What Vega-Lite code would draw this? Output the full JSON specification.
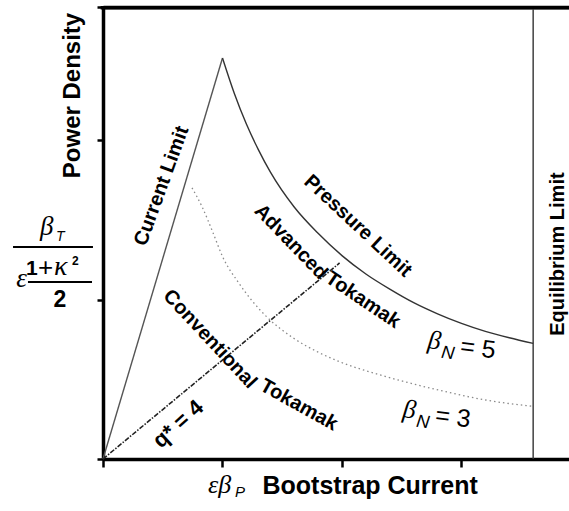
{
  "$schema": "https://vega.github.io/schema/vega-lite/v6.json",
  "autosize": {"type": "none"},
  "padding": {"left": 103, "top": 7, "right": 0, "bottom": 52},
  "width": 466,
  "height": 452,
  "background": "white",
  "config": {"view": {"stroke": null}, "font": "Liberation Sans"},
  "datasets": {
    "current": [{"x": 0, "y": 0}, {"x": 1.0, "y": 2.514}],
    "pressure": [
      {"x": 1.0, "y": 2.514}, {"x": 1.1, "y": 2.29}, {"x": 1.2, "y": 2.10}, {"x": 1.3, "y": 1.94},
      {"x": 1.4, "y": 1.80}, {"x": 1.6, "y": 1.58}, {"x": 1.8, "y": 1.415}, {"x": 2.0, "y": 1.275},
      {"x": 2.2, "y": 1.16}, {"x": 2.4, "y": 1.065}, {"x": 2.6, "y": 0.98}, {"x": 2.8, "y": 0.91},
      {"x": 3.0, "y": 0.85}, {"x": 3.2, "y": 0.80}, {"x": 3.4, "y": 0.76}, {"x": 3.6, "y": 0.725}
    ],
    "bn3": [
      {"x": 0.745, "y": 1.70}, {"x": 0.83, "y": 1.58}, {"x": 0.92, "y": 1.42}, {"x": 1.0, "y": 1.27},
      {"x": 1.13, "y": 1.11}, {"x": 1.25, "y": 0.99}, {"x": 1.372, "y": 0.89}, {"x": 1.59, "y": 0.76},
      {"x": 1.8, "y": 0.67}, {"x": 1.98, "y": 0.61}, {"x": 2.32, "y": 0.527}, {"x": 2.6, "y": 0.47},
      {"x": 2.88, "y": 0.42}, {"x": 3.2, "y": 0.37}, {"x": 3.6, "y": 0.33}
    ],
    "qstar": [{"x": 0, "y": 0}, {"x": 1.98, "y": 1.229}],
    "topline": [{"x": -0.02, "y": 2.83}, {"x": 3.9, "y": 2.83}],
    "eqline": [{"x": 3.6, "y": 0}, {"x": 3.6, "y": 2.82}],
    "fraclines": [
      {"x": -0.753, "x2": -0.084, "y": 1.329},
      {"x": -0.628, "x2": -0.092, "y": 1.110}
    ],
    "labels": [
      {"key": "current", "text": "Current Limit", "x": 0.49, "y": 1.712},
      {"key": "pressure", "text": "Pressure Limit", "x": 2.134, "y": 1.461},
      {"key": "adv1", "text": "Advanced", "x": 1.573, "y": 1.361},
      {"key": "adv2", "text": "Tokamak", "x": 2.176, "y": 0.997},
      {"key": "conv1", "text": "Conventional", "x": 0.895, "y": 0.752},
      {"key": "conv2", "text": "Tokamak", "x": 1.64, "y": 0.339},
      {"key": "q", "text": "q* = 4", "x": 0.628, "y": 0.219},
      {"key": "eq", "text": "Equilibrium Limit", "x": 3.808, "y": 1.285},
      {"key": "bn5", "text": "= 5", "x": 2.711, "y": 0.696},
      {"key": "bn3", "text": "= 3", "x": 2.502, "y": 0.263},
      {"key": "bt", "text": "β", "x": -0.527, "y": 1.404},
      {"key": "onek", "text": "1", "x": -0.628, "y": 1.154},
      {"key": "eps", "text": "ε", "x": -0.682, "y": 1.078},
      {"key": "two", "text": "2", "x": -0.36, "y": 0.953},
      {"key": "ebp", "text": "εβ", "x": 0.879, "y": -0.213}
    ]
  },
  "layer": [
    {
      "data": {"name": "current"},
      "mark": {"type": "line", "color": "#555555", "strokeWidth": 1.4},
      "encoding": {
        "x": {"field": "x", "type": "quantitative", "scale": {"domain": [0, 3.9], "nice": false, "zero": false},
          "axis": {"values": [0, 1, 2, 3], "labels": false, "grid": false, "tickSize": 8, "tickWidth": 2.5, "tickColor": "black",
            "domainWidth": 3.5, "domainColor": "black", "title": "Bootstrap Current", "titleFont": "Liberation Sans",
            "titleFontSize": 25, "titleFontWeight": "bold", "titleColor": "black", "titleX": 159, "titleY": 34,
            "titleAlign": "left", "titleBaseline": "alphabetic", "titleAnchor": null}},
        "y": {"field": "y", "type": "quantitative", "scale": {"domain": [0, 2.834], "nice": false, "zero": false},
          "axis": {"values": [0, 1, 2, 2.832], "labels": false, "grid": true,
            "gridColor": {"condition": {"test": "datum.value > 2.8", "value": "black"}, "value": "transparent"},
            "gridWidth": 3.5, "gridOpacity": 1,
            "tickSize": 6, "tickWidth": 2.5, "tickColor": "black",
            "domainWidth": 3.5, "domainColor": "black", "title": "Power Density", "titleFont": "Liberation Sans",
            "titleFontSize": 24, "titleFontWeight": "bold", "titleColor": "black", "titleAngle": 270, "titleX": -24, "titleY": 88,
            "titleAlign": "center", "titleBaseline": "alphabetic", "titleAnchor": null}}
      }
    },
    {
      "data": {"name": "topline"},
      "mark": {"type": "line", "color": "#000000", "strokeWidth": 3.5},
      "encoding": {"x": {"field": "x", "type": "quantitative"}, "y": {"field": "y", "type": "quantitative"}}
    },
    {
      "data": {"name": "eqline"},
      "mark": {"type": "line", "color": "#333333", "strokeWidth": 1.4, "orient": "vertical"},
      "encoding": {"x": {"field": "x", "type": "quantitative"}, "y": {"field": "y", "type": "quantitative"}}
    },
    {
      "data": {"name": "pressure"},
      "mark": {"type": "line", "color": "#333333", "strokeWidth": 1.4, "interpolate": "monotone"},
      "encoding": {"x": {"field": "x", "type": "quantitative"}, "y": {"field": "y", "type": "quantitative"}}
    },
    {
      "data": {"name": "bn3"},
      "mark": {"type": "line", "color": "#8a8a8a", "strokeWidth": 1.3, "strokeDash": [1.5, 3], "interpolate": "monotone"},
      "encoding": {"x": {"field": "x", "type": "quantitative"}, "y": {"field": "y", "type": "quantitative"}}
    },
    {
      "data": {"name": "qstar"},
      "mark": {"type": "line", "color": "#222222", "strokeWidth": 1.6, "strokeDash": [5, 1.5, 1.5, 1.5]},
      "encoding": {"x": {"field": "x", "type": "quantitative"}, "y": {"field": "y", "type": "quantitative"}}
    },
    {
      "data": {"name": "fraclines"},
      "mark": {"type": "rule", "color": "black", "strokeWidth": 2},
      "encoding": {"x": {"field": "x", "type": "quantitative"}, "x2": {"field": "x2"}, "y": {"field": "y", "type": "quantitative"}}
    },
    {
      "data": {"name": "labels"},
      "transform": [{"filter": "datum.key == 'current'"}],
      "mark": {"type": "text", "font": "Liberation Sans", "fontWeight": "bold", "fontSize": 20, "angle": 290, "align": "center", "baseline": "middle", "color": "black"},
      "encoding": {"x": {"field": "x", "type": "quantitative"}, "y": {"field": "y", "type": "quantitative"}, "text": {"field": "text"}}
    },
    {
      "data": {"name": "labels"},
      "transform": [{"filter": "datum.key == 'pressure'"}],
      "mark": {"type": "text", "font": "Liberation Sans", "fontWeight": "bold", "fontSize": 20, "angle": 43, "align": "center", "baseline": "middle", "color": "black"},
      "encoding": {"x": {"field": "x", "type": "quantitative"}, "y": {"field": "y", "type": "quantitative"}, "text": {"field": "text"}}
    },
    {
      "data": {"name": "labels"},
      "transform": [{"filter": "datum.key == 'adv1'"}],
      "mark": {"type": "text", "font": "Liberation Sans", "fontWeight": "bold", "fontSize": 20, "angle": 46, "align": "center", "baseline": "middle", "color": "black"},
      "encoding": {"x": {"field": "x", "type": "quantitative"}, "y": {"field": "y", "type": "quantitative"}, "text": {"field": "text"}}
    },
    {
      "data": {"name": "labels"},
      "transform": [{"filter": "datum.key == 'adv2'"}],
      "mark": {"type": "text", "font": "Liberation Sans", "fontWeight": "bold", "fontSize": 20, "angle": 34, "align": "center", "baseline": "middle", "color": "black"},
      "encoding": {"x": {"field": "x", "type": "quantitative"}, "y": {"field": "y", "type": "quantitative"}, "text": {"field": "text"}}
    },
    {
      "data": {"name": "labels"},
      "transform": [{"filter": "datum.key == 'conv1'"}],
      "mark": {"type": "text", "font": "Liberation Sans", "fontWeight": "bold", "fontSize": 20, "angle": 47, "align": "center", "baseline": "middle", "color": "black"},
      "encoding": {"x": {"field": "x", "type": "quantitative"}, "y": {"field": "y", "type": "quantitative"}, "text": {"field": "text"}}
    },
    {
      "data": {"name": "labels"},
      "transform": [{"filter": "datum.key == 'conv2'"}],
      "mark": {"type": "text", "font": "Liberation Sans", "fontWeight": "bold", "fontSize": 20, "angle": 29, "align": "center", "baseline": "middle", "color": "black"},
      "encoding": {"x": {"field": "x", "type": "quantitative"}, "y": {"field": "y", "type": "quantitative"}, "text": {"field": "text"}}
    },
    {
      "data": {"name": "labels"},
      "transform": [{"filter": "datum.key == 'q'"}],
      "mark": {"type": "text", "font": "Liberation Sans", "fontWeight": "bold", "fontSize": 22, "angle": 318, "align": "center", "baseline": "middle", "color": "black"},
      "encoding": {"x": {"field": "x", "type": "quantitative"}, "y": {"field": "y", "type": "quantitative"}, "text": {"field": "text"}}
    },
    {
      "data": {"name": "labels"},
      "transform": [{"filter": "datum.key == 'eq'"}],
      "mark": {"type": "text", "font": "Liberation Sans", "fontWeight": "bold", "fontSize": 20, "angle": 270, "align": "center", "baseline": "middle", "color": "black"},
      "encoding": {"x": {"field": "x", "type": "quantitative"}, "y": {"field": "y", "type": "quantitative"}, "text": {"field": "text"}}
    },
    {
      "data": {"name": "labels"},
      "transform": [{"filter": "datum.key == 'bn5' || datum.key == 'bn3'"}],
      "mark": {"type": "text", "font": "Liberation Serif", "fontStyle": "italic", "fontSize": 26, "angle": 7, "align": "left", "baseline": "alphabetic", "color": "black"},
      "encoding": {"x": {"field": "x", "type": "quantitative"}, "y": {"field": "y", "type": "quantitative"}, "text": {"value": "β"}}
    },
    {
      "data": {"name": "labels"},
      "transform": [{"filter": "datum.key == 'bn5' || datum.key == 'bn3'"}],
      "mark": {"type": "text", "font": "Liberation Sans", "fontStyle": "italic", "fontSize": 18, "angle": 7, "align": "left", "baseline": "alphabetic", "dx": 15, "dy": 8, "color": "black"},
      "encoding": {"x": {"field": "x", "type": "quantitative"}, "y": {"field": "y", "type": "quantitative"}, "text": {"value": "N"}}
    },
    {
      "data": {"name": "labels"},
      "transform": [{"filter": "datum.key == 'bn5' || datum.key == 'bn3'"}],
      "mark": {"type": "text", "font": "Liberation Sans", "fontSize": 25, "angle": 7, "align": "left", "baseline": "alphabetic", "dx": 33, "dy": 2, "color": "black"},
      "encoding": {"x": {"field": "x", "type": "quantitative"}, "y": {"field": "y", "type": "quantitative"}, "text": {"field": "text"}}
    },
    {
      "data": {"name": "labels"},
      "transform": [{"filter": "datum.key == 'bt'"}],
      "mark": {"type": "text", "font": "Liberation Serif", "fontStyle": "italic", "fontSize": 27, "align": "left", "baseline": "alphabetic", "color": "black"},
      "encoding": {"x": {"field": "x", "type": "quantitative"}, "y": {"field": "y", "type": "quantitative"}, "text": {"field": "text"}}
    },
    {
      "data": {"name": "labels"},
      "transform": [{"filter": "datum.key == 'bt'"}],
      "mark": {"type": "text", "font": "Liberation Sans", "fontStyle": "italic", "fontSize": 14, "align": "left", "baseline": "alphabetic", "dx": 16, "dy": 6, "color": "black"},
      "encoding": {"x": {"field": "x", "type": "quantitative"}, "y": {"field": "y", "type": "quantitative"}, "text": {"value": "T"}}
    },
    {
      "data": {"name": "labels"},
      "transform": [{"filter": "datum.key == 'onek'"}],
      "mark": {"type": "text", "font": "Liberation Sans", "fontWeight": "bold", "fontSize": 21, "align": "left", "baseline": "alphabetic", "dx": -2, "color": "black"},
      "encoding": {"x": {"field": "x", "type": "quantitative"}, "y": {"field": "y", "type": "quantitative"}, "text": {"field": "text"}}
    },
    {
      "data": {"name": "labels"},
      "transform": [{"filter": "datum.key == 'onek'"}],
      "mark": {"type": "text", "font": "Liberation Sans", "fontSize": 26, "align": "left", "baseline": "alphabetic", "dx": 10, "dy": 1, "color": "black"},
      "encoding": {"x": {"field": "x", "type": "quantitative"}, "y": {"field": "y", "type": "quantitative"}, "text": {"value": "+"}}
    },
    {
      "data": {"name": "labels"},
      "transform": [{"filter": "datum.key == 'onek'"}],
      "mark": {"type": "text", "font": "Liberation Serif", "fontStyle": "italic", "fontSize": 28, "align": "left", "baseline": "alphabetic", "dx": 26, "color": "black"},
      "encoding": {"x": {"field": "x", "type": "quantitative"}, "y": {"field": "y", "type": "quantitative"}, "text": {"value": "κ"}}
    },
    {
      "data": {"name": "labels"},
      "transform": [{"filter": "datum.key == 'onek'"}],
      "mark": {"type": "text", "font": "Liberation Sans", "fontWeight": "bold", "fontSize": 12, "align": "left", "baseline": "alphabetic", "dx": 44, "dy": -10, "color": "black"},
      "encoding": {"x": {"field": "x", "type": "quantitative"}, "y": {"field": "y", "type": "quantitative"}, "text": {"value": "2"}}
    },
    {
      "data": {"name": "labels"},
      "transform": [{"filter": "datum.key == 'eps'"}],
      "mark": {"type": "text", "font": "Liberation Serif", "fontStyle": "italic", "fontSize": 27, "align": "center", "baseline": "alphabetic", "color": "black"},
      "encoding": {"x": {"field": "x", "type": "quantitative"}, "y": {"field": "y", "type": "quantitative"}, "text": {"field": "text"}}
    },
    {
      "data": {"name": "labels"},
      "transform": [{"filter": "datum.key == 'two'"}],
      "mark": {"type": "text", "font": "Liberation Sans", "fontWeight": "bold", "fontSize": 23, "align": "center", "baseline": "alphabetic", "color": "black"},
      "encoding": {"x": {"field": "x", "type": "quantitative"}, "y": {"field": "y", "type": "quantitative"}, "text": {"field": "text"}}
    },
    {
      "data": {"name": "labels"},
      "transform": [{"filter": "datum.key == 'ebp'"}],
      "mark": {"type": "text", "font": "Liberation Serif", "fontStyle": "italic", "fontSize": 26, "align": "left", "baseline": "alphabetic", "color": "black"},
      "encoding": {"x": {"field": "x", "type": "quantitative"}, "y": {"field": "y", "type": "quantitative"}, "text": {"field": "text"}}
    },
    {
      "data": {"name": "labels"},
      "transform": [{"filter": "datum.key == 'ebp'"}],
      "mark": {"type": "text", "font": "Liberation Sans", "fontStyle": "italic", "fontSize": 15, "align": "left", "baseline": "alphabetic", "dx": 27, "dy": 4, "color": "black"},
      "encoding": {"x": {"field": "x", "type": "quantitative"}, "y": {"field": "y", "type": "quantitative"}, "text": {"value": "P"}}
    }
  ]
}
